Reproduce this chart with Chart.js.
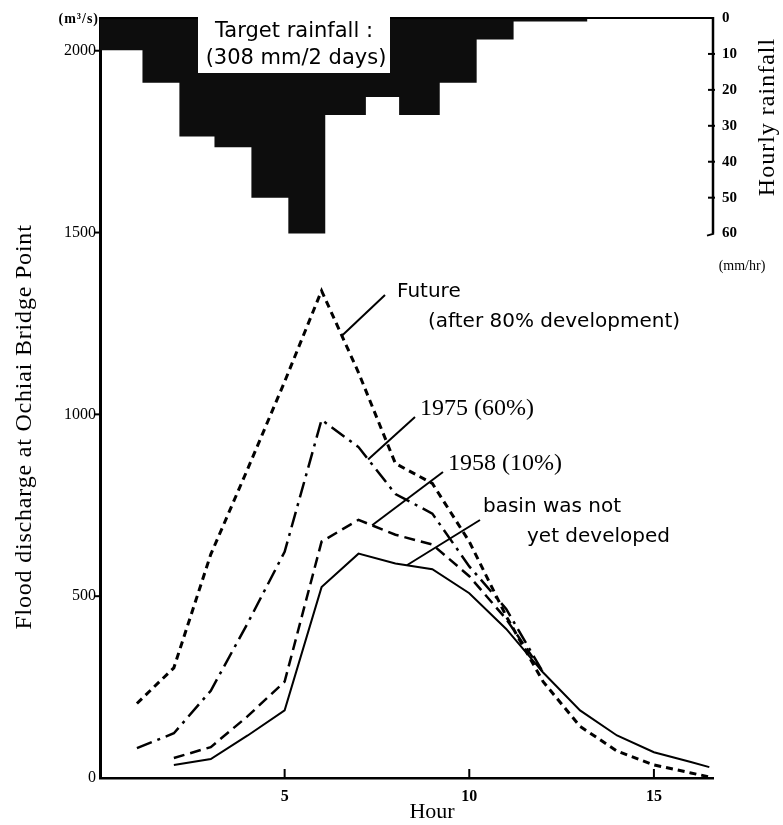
<!DOCTYPE html>
<html>
<head>
<meta charset="utf-8">
<script src="https://cdn.jsdelivr.net/npm/chart.js@4.4.0/dist/chart.umd.min.js"></script>
<style>
    html, body { margin: 0; padding: 0; background: #fff; }
    #wrap { width: 783px; height: 825px; }
</style>
</head>
<body>
<div id="wrap"><canvas id="flood" width="783" height="825"></canvas></div>
<script>
// discharge hydrographs (m3/s) at each hour
const hours = [1, 2, 3, 4, 5, 6, 7, 8, 9, 10, 11, 12, 13, 14, 15, 16, 16.5];
const futureFlow = [205, 303, 615, 850, 1090, 1340, 1115, 865, 810, 650, 445, 265, 142, 74, 36, 14, 3];
const flow1975 = [82, 123, 240, 426, 622, 985, 910, 781, 727, 582, 465, 290, null, null, null, null, null];
const flow1958 = [null, 55, 85, 170, 265, 650, 710, 669, 642, 555, 437, 290, null, null, null, null, null];
const flowNatural = [null, 36, 52, 117, 186, 525, 617, 590, 574, 508, 410, 290, 186, 117, 71, 44, 30];

// hourly rainfall blocks (mm/hr); block i runs from rainFrom[i] to the next start
const rainFrom = [0, 1.15, 2.15, 3.1, 4.1, 5.1, 6.1, 7.2, 8.1, 9.2, 10.2, 11.2, 12.2];
const rainEnd = 13.2;
const rainMm = [9, 18, 33, 36, 50, 60, 27, 22, 27, 18, 6, 1, 1];

const xTicks = [5, 10, 15];
const flowTicks = [0, 500, 1000, 1500, 2000];
const rainTicks = [0, 10, 20, 30, 40, 50, 60];

function points(xs, ys) {
    return xs.map((x, i) => ({x, y: ys[i]})).filter(p => p.y !== null);
}

// stepped 'before' keeps each value until the next x
const rainPoints = points(rainFrom, rainMm).concat([{x: rainEnd, y: 0}]);

const serif = '"Liberation Serif", "DejaVu Serif", serif';
const sans = '"DejaVu Sans", "Liberation Sans", sans-serif';

function text(ctx, str, x, y, font, align, spacing) {
    ctx.font = font;
    ctx.textAlign = align || 'left';
    ctx.textBaseline = 'middle';
    ctx.letterSpacing = spacing || '0px';
    ctx.fillText(str, x, y);
    ctx.letterSpacing = '0px';
}

function line(ctx, x1, y1, x2, y2, w) {
    ctx.lineWidth = w;
    ctx.beginPath();
    ctx.moveTo(x1, y1);
    ctx.lineTo(x2, y2);
    ctx.stroke();
}

// labels, leader lines, extra axis pieces
const decor = {
    id: 'decor',
    afterDatasetsDraw(chart) {
        const {ctx, chartArea: a, scales: {x, y, y2}} = chart;
        ctx.save();
        ctx.strokeStyle = '#000';
        ctx.fillStyle = '#000';
        ctx.setLineDash([]);
        ctx.lineCap = 'butt';

        // top frame and short rainfall axis
        line(ctx, a.left, a.top, a.right, a.top, 2);
        const r0 = y2.getPixelForValue(0), r60 = y2.getPixelForValue(60);
        line(ctx, a.right, r0 - 1, a.right, r60, 2.5);
        line(ctx, a.right + 1, r60, a.right - 6, r60 + 2, 2);
        rainTicks.slice(1, -1).forEach(v => {
            const p = y2.getPixelForValue(v);
            line(ctx, a.right - 5, p, a.right + 2, p, 2);
        });
        xTicks.forEach(v => {
            const p = x.getPixelForValue(v);
            line(ctx, p, a.bottom, p, a.bottom - 9, 2);
        });
        flowTicks.slice(1).forEach(v => {
            const p = y.getPixelForValue(v);
            line(ctx, a.left - 6, p, a.left, p, 2);
        });

        // rainfall caption box
        ctx.fillStyle = '#fff';
        ctx.fillRect(198, 17, 192, 56);
        ctx.fillStyle = '#000';
        text(ctx, 'Target rainfall :', 294, 32, '21px ' + sans, 'center');
        text(ctx, '(308 mm/2 days)', 296, 59, '21px ' + sans, 'center');

        // units and axis titles
        text(ctx, '(m³/s)', 99, 19, 'bold 14px ' + serif, 'right', '1px');
        text(ctx, '(mm/hr)', 742, 266, '14px ' + serif, 'center');
        text(ctx, 'Hour', 432, 812, '22px ' + serif, 'center');

        ctx.save();
        ctx.translate(25, 427);
        ctx.rotate(-Math.PI / 2);
        text(ctx, 'Flood discharge at Ochiai Bridge Point', 0, 0, '24px ' + serif, 'center', '0.8px');
        ctx.restore();

        ctx.save();
        ctx.translate(768, 117);
        ctx.rotate(-Math.PI / 2);
        text(ctx, 'Hourly rainfall', 0, 0, '24px ' + serif, 'center', '1px');
        ctx.restore();

        // curve labels with leaders pointing at the curves
        const leaders = [
            {from: [385, 295], to: [6.55, 1216]},
            {from: [415, 417], to: [7.26, 876]},
            {from: [443, 472], to: [7.37, 695]},
            {from: [480, 520], to: [8.31, 585]}
        ];
        leaders.forEach(l => {
            line(ctx, l.from[0], l.from[1], x.getPixelForValue(l.to[0]), y.getPixelForValue(l.to[1]), 2);
        });

        text(ctx, 'Future', 397, 292, '20px ' + sans);
        text(ctx, '(after 80% development)', 428, 322, '20px ' + sans);
        text(ctx, '1975 (60%)', 420, 409, '24px ' + serif);
        text(ctx, '1958 (10%)', 448, 464, '24px ' + serif);
        text(ctx, 'basin was not', 483, 507, '20px ' + sans);
        text(ctx, 'yet developed', 527, 537, '20px ' + sans);

        ctx.restore();
    }
};

new Chart(document.getElementById('flood'), {
    type: 'line',
    data: {
        datasets: [
            {
                label: 'Hourly rainfall',
                data: rainPoints,
                yAxisID: 'y2',
                stepped: 'before',
                borderWidth: 0,
                borderColor: '#0d0d0d',
                backgroundColor: '#0d0d0d',
                fill: {value: 0},
                pointRadius: 0,
                order: 5
            },
            {
                label: 'Future (after 80% development)',
                data: points(hours, futureFlow),
                borderColor: '#000',
                borderWidth: 3,
                borderDash: [7, 5],
                pointRadius: 0,
                tension: 0
            },
            {
                label: '1975 (60%)',
                data: points(hours, flow1975),
                borderColor: '#000',
                borderWidth: 2.5,
                borderDash: [16, 6, 3, 6],
                pointRadius: 0,
                tension: 0
            },
            {
                label: '1958 (10%)',
                data: points(hours, flow1958),
                borderColor: '#000',
                borderWidth: 2.5,
                borderDash: [11, 6],
                pointRadius: 0,
                tension: 0
            },
            {
                label: 'basin was not yet developed',
                data: points(hours, flowNatural),
                borderColor: '#000',
                borderWidth: 2,
                pointRadius: 0,
                tension: 0
            }
        ]
    },
    options: {
        responsive: false,
        animation: false,
        devicePixelRatio: 1,
        layout: {padding: {top: 13, left: 0, right: 0, bottom: 0}},
        plugins: {legend: {display: false}, tooltip: {enabled: false}},
        scales: {
            x: {
                type: 'linear',
                min: 0,
                max: 16.6,
                grid: {display: false, drawTicks: false},
                border: {color: '#000', width: 2.5},
                ticks: {
                    color: '#000', padding: 9,
                    font: {family: serif, size: 16, weight: 'bold'},
                    callback: v => String(v)
                },
                afterBuildTicks: s => { s.ticks = xTicks.map(v => ({value: v})); },
                afterFit: s => { s.height = 47; }
            },
            y: {
                position: 'left',
                min: 0,
                max: 2090,
                grid: {display: false, drawTicks: false},
                border: {color: '#000', width: 3},
                ticks: {
                    color: '#000', padding: 4,
                    font: {family: serif, size: 16},
                    callback: v => String(v)
                },
                afterBuildTicks: s => { s.ticks = flowTicks.map(v => ({value: v})); },
                afterFit: s => { s.width = 100; }
            },
            y2: {
                position: 'right',
                reverse: true,
                min: 0,
                max: 211.5,
                grid: {display: false, drawTicks: false},
                border: {display: false},
                ticks: {
                    color: '#000', padding: 9,
                    font: {family: serif, size: 15, weight: 'bold'},
                    callback: v => String(v)
                },
                afterBuildTicks: s => { s.ticks = rainTicks.map(v => ({value: v})); },
                afterFit: s => { s.width = 70; }
            }
        }
    },
    plugins: [decor]
});
</script>
</body>
</html>
